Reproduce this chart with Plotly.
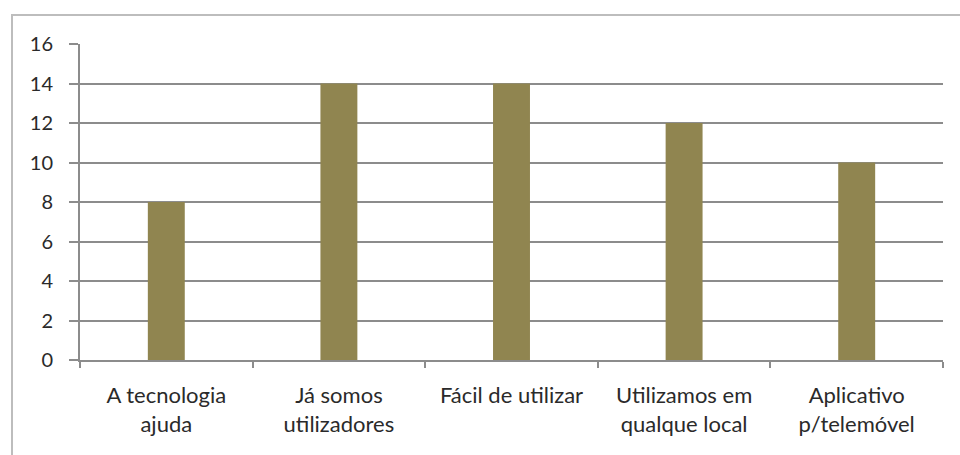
import plotly.graph_objects as go

categories = ["A tecnologia<br>ajuda", "Já somos<br>utilizadores", "Fácil de utilizar",
              "Utilizamos em<br>qualque local", "Aplicativo<br>p/telemóvel"]
values = [8, 14, 14, 12, 10]
y_ticks = [0, 2, 4, 6, 8, 10, 12, 14, 16]

L, R, T, B = 80, 17, 44, 95
W, H = 960, 455
pw, ph = W - L - R, H - T - B

fig = go.Figure(go.Bar(x=categories, y=values, marker_color="#908550",
                       marker_line_width=0))

grid = "#8c8c8c"
fig.update_layout(
    width=W, height=H,
    margin=dict(l=L, r=R, t=T, b=B),
    paper_bgcolor="white", plot_bgcolor="white",
    bargap=0.786,
    showlegend=False,
    font=dict(family="Lato", size=20, color="#2a2a2a"),
    xaxis=dict(showline=True, linecolor=grid, linewidth=2,
               ticks="outside", tickson="boundaries", ticklen=6, tickcolor=grid,
               tickwidth=2, showgrid=False, tickfont=dict(size=22),
               ticklabelstandoff=15),
    yaxis=dict(range=[0, 16], tickvals=y_ticks, showline=True, linecolor=grid,
               linewidth=2, ticks="outside", ticklen=9, tickcolor=grid, tickwidth=2,
               showgrid=True, gridcolor=grid, gridwidth=2, zeroline=False,
               ticklabelstandoff=12, tickfont=dict(size=20)),
)
fig.add_shape(type="rect", xref="paper", yref="paper",
              x0=(12 - L) / pw, x1=(W + 5 - L) / pw,
              y0=-(H + 5 - (T + ph)) / ph, y1=(T + ph - 15) / ph,
              line=dict(color="#bdbdbd", width=2), layer="below")
fig.write_html("out.html")
